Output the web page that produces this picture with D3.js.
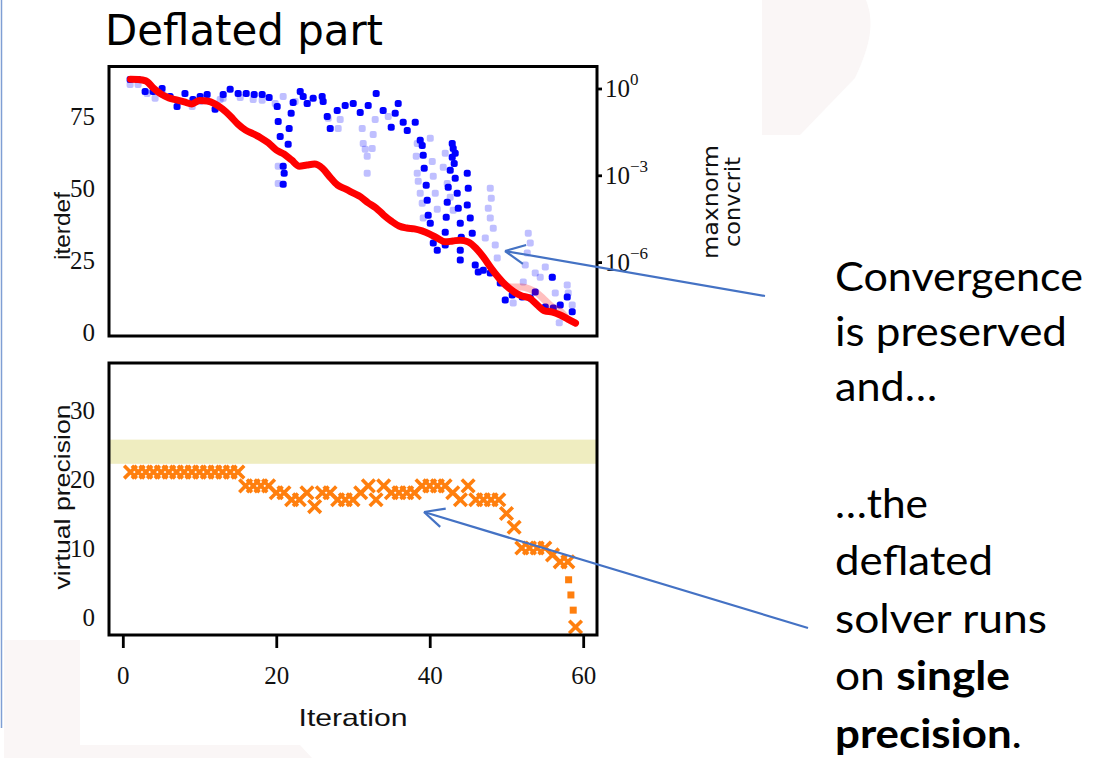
<!DOCTYPE html>
<html>
<head>
<meta charset="utf-8">
<script src="https://cdn.jsdelivr.net/npm/d3@7"></script>
<style>
body { margin: 0; background: #fff; }
svg { display: block; }
.axis path.domain { display: none; }
.axis line { stroke: #000; stroke-width: 2.8; }
.label { font-family: "Liberation Sans", "DejaVu Sans", sans-serif; font-size: 22px; fill: #111; }
.note { font-family: Lato, "Open Sans", sans-serif; font-size: 40px; fill: #000; }
</style>
</head>
<body>
<script>
// iterdef per outer iteration 1..59 (left axis, top panel)
var iterdef = [87.8, 87.7, 87.2, 84.7, 82.6, 81.3, 80.6, 79.9, 79.2, 80.4,
    80.2, 79.2, 77.4, 75, 72.2, 70.1, 68.8, 67.4, 65.6, 63.2,
    61.8, 59.7, 57.6, 58, 58.3, 56.9, 53.8, 51, 49.7, 48.3,
    46.9, 44.8, 43.1, 40.6, 38.5, 36.8, 36.1, 35.8, 35.1, 34,
    32.6, 31.3, 31.6, 31.9, 31.3, 29.2, 26, 22.2, 18.8, 16,
    13.9, 12.5, 11.8, 9.4, 7.3, 6.9, 5.9, 4.5, 3.1];

// faded reference iterdef over the last iterations [iteration, value]
var iterdefRef = [[49, 18.8], [50, 16], [51, 15.6], [52, 15.6], [53, 14.9], [54, 13.5],
    [55, 11.1], [56, 8.7], [57, 7.3], [58, 4.5], [59, 3.1]];

// maxnorm, [iteration, log10 value] (right axis, dark blue)
var maxnorm = [[0.95, 0.31], [1.99, 0.31], [2.91, -0.1], [3.95, -0.1], [5.12, 0], [6.16, -0.28],
    [7.07, -0.62], [8.1, -0.17], [9.14, -0.38], [10.08, -0.28], [10.99, -0.21], [12.03, -0.72],
    [13.08, -0.21], [13.99, -0.03], [15.03, -0.17], [16.08, -0.17], [17.12, -0.21], [18.16, -0.21],
    [19.07, -0.31], [20.12, -0.62], [20.25, -1.14], [20.51, -1.66], [20.9, -2.69], [21.03, -2.93],
    [20.9, -3.31], [21.55, -1.93], [21.68, -1.38], [21.94, -0.86], [22.2, -0.48], [23.12, -0.1],
    [23.51, -0.28], [24.03, -0.52], [24.81, -0.34], [25.98, -0.28], [26.11, -0.45], [26.64, -0.97],
    [27.03, -1.38], [27.94, -0.76], [28.98, -0.59], [30.03, -0.52], [30.94, -0.83], [31.98, -0.59],
    [33.02, -0.17], [33.93, -0.76], [34.98, -1.34], [35.5, -0.86], [35.89, -0.52], [36.54, -1.17],
    [37.07, -1.45], [38.11, -1.17], [38.76, -1.79], [39.02, -1.97], [39.15, -2.31], [39.28, -2.76],
    [39.54, -3.34], [39.67, -3.86], [39.8, -4.38], [40.07, -4.66], [40.46, -5.34], [40.98, -5.59],
    [42.93, -1.9], [43.06, -2.07], [42.93, -2.38], [42.67, -2.83], [42.41, -3.41], [42.28, -3.93],
    [42.15, -4.45], [42.02, -4.97], [42.02, -5.41], [43.32, -2.24], [43.19, -2.59], [43.32, -3.1],
    [43.58, -3.62], [43.72, -4.14], [43.98, -4.66], [44.11, -5.14], [43.98, -5.59], [43.98, -5.93],
    [44.89, -2.93], [45.02, -3.45], [44.89, -4.03], [45.28, -4.48], [45.54, -5.0], [45.93, -6.1],
    [46.32, -6.34], [46.98, -6.28], [47.89, -6.38], [49.19, -6.72], [49.84, -7.31], [50.75, -7.14],
    [52.06, -7.21], [53.1, -7.24], [53.75, -7.03], [55.06, -7.55], [55.97, -6.52], [56.1, -7.59],
    [57.01, -7.48], [57.92, -7.21], [58.57, -7.72]];

// convcrit, [iteration, log10 value] (right axis, light blue)
var convcrit = [[0.95, 0.14], [1.99, 0.14], [3.17, -0.17], [4.21, -0.34], [5.25, -0.21], [7.21, -0.45],
    [9.04, -0.62], [10.08, -0.45], [12.69, -0.38], [13.08, -0.34], [15.3, -0.31], [16.99, -0.38],
    [18.16, -0.41], [19.86, -0.52], [20.25, -2.69], [20.25, -3.28], [20.9, -0.28], [22.46, -0.45],
    [24.03, -0.52], [26.77, -1.03], [28.33, -1.07], [28.07, -1.38], [31.2, -1.38], [31.33, -1.9],
    [31.59, -2.1], [31.85, -2.34], [31.85, -2.93], [32.5, -2.07], [32.63, -1.59], [32.89, -1.07],
    [34.59, -0.97], [38.37, -1.9], [38.24, -2.34], [38.37, -2.93], [38.5, -3.21], [38.76, -3.62],
    [39.02, -3.97], [39.15, -4.48], [40.07, -1.72], [40.33, -2.52], [40.46, -3.03], [40.72, -3.62],
    [40.98, -4.17], [42.02, -2.24], [41.76, -2.72], [42.28, -3.28], [42.67, -3.76], [43.06, -4.21],
    [47.89, -3.45], [48.02, -3.79], [47.63, -4.14], [47.89, -4.48], [48.28, -4.83], [47.24, -5.17],
    [48.54, -5.41], [48.8, -5.86], [52.84, -5.0], [53.1, -5.34], [52.71, -5.69], [52.45, -6.1],
    [53.75, -6.38], [54.4, -6.52], [55.06, -6.17], [55.97, -6.52], [56.36, -7.07], [57.92, -6.79],
    [58.05, -7.07], [58.57, -7.48], [56.88, -8.1], [52.19, -6.69], [50.88, -7.41]];

// virtual precision per iteration (bottom panel)
var precision = [21, 21, 21, 21, 21, 21, 21, 21, 21, 21, 21, 21, 21, 21, 21,
    19, 19, 19, 19, 18, 18, 17, 17, 18, 16, 18, 18, 17, 17, 17,
    18, 19, 17, 19, 18, 18, 18, 18, 19, 19, 19, 19, 18, 17, 19,
    17, 17, 17, 17, 15, 13, 10, 10, 10, 10, 9, 8, 8];
// final drop, [iteration, value]
var precisionTail = [[58.1, 5.4], [58.4, 3.2], [58.7, 1.0]];
var precisionLast = [[59, -1.45]];
var precisionBand = [22.2, 25.7];

var leftTicks = [0, 25, 50, 75],
    logTicks = [0, -3, -6],
    precTicks = [0, 10, 20, 30],
    iterTicks = [0, 20, 40, 60];

var notes1 = ["Convergence", "is preserved", "and…"];
var notes2 = [["…the"], ["deflated"], ["solver runs"], ["on ", "single"], ["precision", "."]];

var W = 1112, H = 758;
var svg = d3.select("body").append("svg").attr("width", W).attr("height", H);
svg.append("rect").attr("width", W).attr("height", H).attr("fill", "#fff");

// faint slide background shapes
svg.append("path").attr("d", "M762,0 L866,0 C876,25 868,50 855,78 L800,135 L762,135 Z").attr("fill", "#faf6f6");
svg.append("path").attr("d", "M4,640 L80,640 L80,745 L300,745 L312,758 L4,758 Z").attr("fill", "#faf6f6");
svg.append("line").attr("x1", 1.5).attr("x2", 1.5).attr("y1", 0).attr("y2", 728)
    .attr("stroke", "#7f9fd4").attr("stroke-width", 1.5);

var left = 109, right = 597;
var x = d3.scaleLinear().domain([-1.8, 61.8]).range([left, right]);
var yIter = d3.scaleLinear().domain([-1.39, 92.2]).range([336, 66.5]);
var yLog = d3.scaleLog().domain([Math.pow(10, -8.52), Math.pow(10, 0.76)]).range([335, 66.5]);
var yPrec = d3.scaleLinear().domain([-2.6, 36.8]).range([635, 363]);

function styleTicks(sel) {
    sel.selectAll("text")
        .style("font-family", "'Liberation Serif', 'DejaVu Serif', serif")
        .style("font-size", "25px").attr("fill", "#111");
}

// title
svg.append("text").attr("x", 105).attr("y", 45)
    .attr("textLength", 278).attr("lengthAdjust", "spacingAndGlyphs")
    .style("font-family", "'Liberation Sans Narrow', 'DejaVu Sans Condensed', 'Liberation Sans', sans-serif")
    .style("font-size", "43px").text("Deflated part");

// ---- top panel
var topG = svg.append("g");
var sq = 7;
topG.selectAll("rect.cc").data(convcrit).enter().append("rect")
    .attr("x", d => x(d[0]) - sq / 2).attr("y", d => yLog(Math.pow(10, d[1])) - sq / 2)
    .attr("width", sq).attr("height", sq).attr("rx", 2)
    .attr("fill", "#0000ff").attr("fill-opacity", 0.25);
topG.selectAll("rect.mn").data(maxnorm).enter().append("rect")
    .attr("x", d => x(d[0]) - sq / 2).attr("y", d => yLog(Math.pow(10, d[1])) - sq / 2)
    .attr("width", sq).attr("height", sq).attr("rx", 2.5)
    .attr("fill", "#0000ff");

var redLine = d3.line().x(d => x(d[0])).y(d => yIter(d[1])).curve(d3.curveMonotoneX);
topG.append("path").datum(iterdefRef).attr("d", redLine)
    .attr("fill", "none").attr("stroke", "#ff0000").attr("stroke-opacity", 0.25)
    .attr("stroke-width", 7).attr("stroke-linecap", "round");
topG.append("path").datum(iterdef.map((v, i) => [i + 1, v])).attr("d", redLine)
    .attr("fill", "none").attr("stroke", "#ff0000").attr("stroke-width", 7)
    .attr("stroke-linecap", "round").attr("stroke-linejoin", "round");

topG.append("rect").attr("x", left).attr("y", 66.5).attr("width", right - left).attr("height", 336 - 66.5)
    .attr("fill", "none").attr("stroke", "#000").attr("stroke-width", 3);

svg.append("g").attr("class", "axis").attr("transform", "translate(" + left + ",0)")
    .call(d3.axisLeft(yIter).tickValues(leftTicks).tickSize(0).tickPadding(14))
    .call(styleTicks)
    .selectAll("text").attr("dy", "0.35em");

svg.append("g").attr("class", "axis").attr("transform", "translate(" + right + ",0)")
    .call(d3.axisRight(yLog).tickValues(logTicks.map(e => Math.pow(10, e))).tickSize(5).tickFormat(""));
logTicks.forEach(function (e) {
    var t = svg.append("text").attr("x", 605).attr("y", yLog(Math.pow(10, e)) + 9)
        .style("font-family", "'Liberation Serif', serif").style("font-size", "25px").attr("fill", "#111");
    t.append("tspan").text("10");
    t.append("tspan").attr("dy", -12).style("font-size", "17px").text(e === 0 ? "0" : "−" + (-e));
});

svg.append("text").attr("class", "label").attr("transform", "translate(70,226) rotate(-90)")
    .attr("text-anchor", "middle").attr("textLength", 68).attr("lengthAdjust", "spacingAndGlyphs").text("iterdef");
svg.append("text").attr("class", "label").style("font-family", "'DejaVu Sans', sans-serif")
    .attr("transform", "translate(718,202) rotate(-90)")
    .attr("text-anchor", "middle").attr("textLength", 114).attr("lengthAdjust", "spacingAndGlyphs").text("maxnorm");
svg.append("text").attr("class", "label").style("font-family", "'DejaVu Sans', sans-serif")
    .attr("transform", "translate(740,202) rotate(-90)")
    .attr("text-anchor", "middle").attr("textLength", 90).attr("lengthAdjust", "spacingAndGlyphs").text("convcrit");

// ---- bottom panel
var botG = svg.append("g");
botG.append("rect").attr("x", left).attr("y", yPrec(precisionBand[1])).attr("width", right - left)
    .attr("height", yPrec(precisionBand[0]) - yPrec(precisionBand[1])).attr("fill", "#efedc0");

var xSym = d3.symbol(d3.symbolX, 105);
botG.selectAll("path.px").data(precision.map((v, i) => [i + 1, v]).concat(precisionLast)).enter().append("path")
    .attr("transform", d => "translate(" + x(d[0]) + "," + yPrec(d[1]) + ")")
    .attr("d", xSym).attr("fill", "none").attr("stroke", "#ff7f0e").attr("stroke-width", 3.6);
botG.selectAll("rect.tail").data(precisionTail).enter().append("rect")
    .attr("x", d => x(d[0]) - 3.5).attr("y", d => yPrec(d[1]) - 3.5).attr("width", 7).attr("height", 7)
    .attr("fill", "#ff7f0e");

botG.append("rect").attr("x", left).attr("y", 363).attr("width", right - left).attr("height", 635 - 363)
    .attr("fill", "none").attr("stroke", "#000").attr("stroke-width", 3);

svg.append("g").attr("class", "axis").attr("transform", "translate(" + left + ",0)")
    .call(d3.axisLeft(yPrec).tickValues(precTicks).tickSize(0).tickPadding(14))
    .call(styleTicks)
    .selectAll("text").attr("dy", "0.35em");
svg.append("g").attr("class", "axis").attr("transform", "translate(0,636)")
    .call(d3.axisBottom(x).tickValues(iterTicks).tickSize(12).tickPadding(18))
    .call(styleTicks);

svg.append("text").attr("class", "label").attr("transform", "translate(70,497) rotate(-90)")
    .attr("text-anchor", "middle").attr("textLength", 185).attr("lengthAdjust", "spacingAndGlyphs").text("virtual precision");
svg.append("text").attr("class", "label").style("font-size", "24px").attr("x", 353).attr("y", 726)
    .attr("text-anchor", "middle").attr("textLength", 109).attr("lengthAdjust", "spacingAndGlyphs").text("Iteration");

// ---- annotations
function arrow(x1, y1, x2, y2) {
    var g = svg.append("g").attr("stroke", "#4472c4").attr("stroke-width", 2.2).attr("fill", "none");
    g.append("line").attr("x1", x1).attr("y1", y1).attr("x2", x2).attr("y2", y2);
    var a = Math.atan2(y1 - y2, x1 - x2), L = 22;
    [-0.45, 0.45].forEach(function (da) {
        g.append("line").attr("x1", x2).attr("y1", y2)
            .attr("x2", x2 + L * Math.cos(a + da)).attr("y2", y2 + L * Math.sin(a + da));
    });
}
arrow(765, 296, 505, 251);
arrow(808, 628, 424, 512);

var w1 = [248, 232, 102];
notes1.forEach(function (s, i) {
    svg.append("text").attr("class", "note").attr("x", 835).attr("y", 291 + i * 55)
        .attr("textLength", w1[i]).attr("lengthAdjust", "spacingAndGlyphs").text(s);
});
var w2 = [93, 158, 212, 175, 187];
notes2.forEach(function (parts, i) {
    var t = svg.append("text").attr("class", "note").attr("x", 835).attr("y", 518 + i * 57.4)
        .attr("textLength", w2[i]).attr("lengthAdjust", "spacingAndGlyphs");
    parts.forEach(function (p, j) {
        var bold = (i === 3 && j === 1) || (i === 4 && j === 0);
        t.append("tspan").style("font-weight", bold ? "bold" : "normal").text(p);
    });
});
</script>
</body>
</html>
